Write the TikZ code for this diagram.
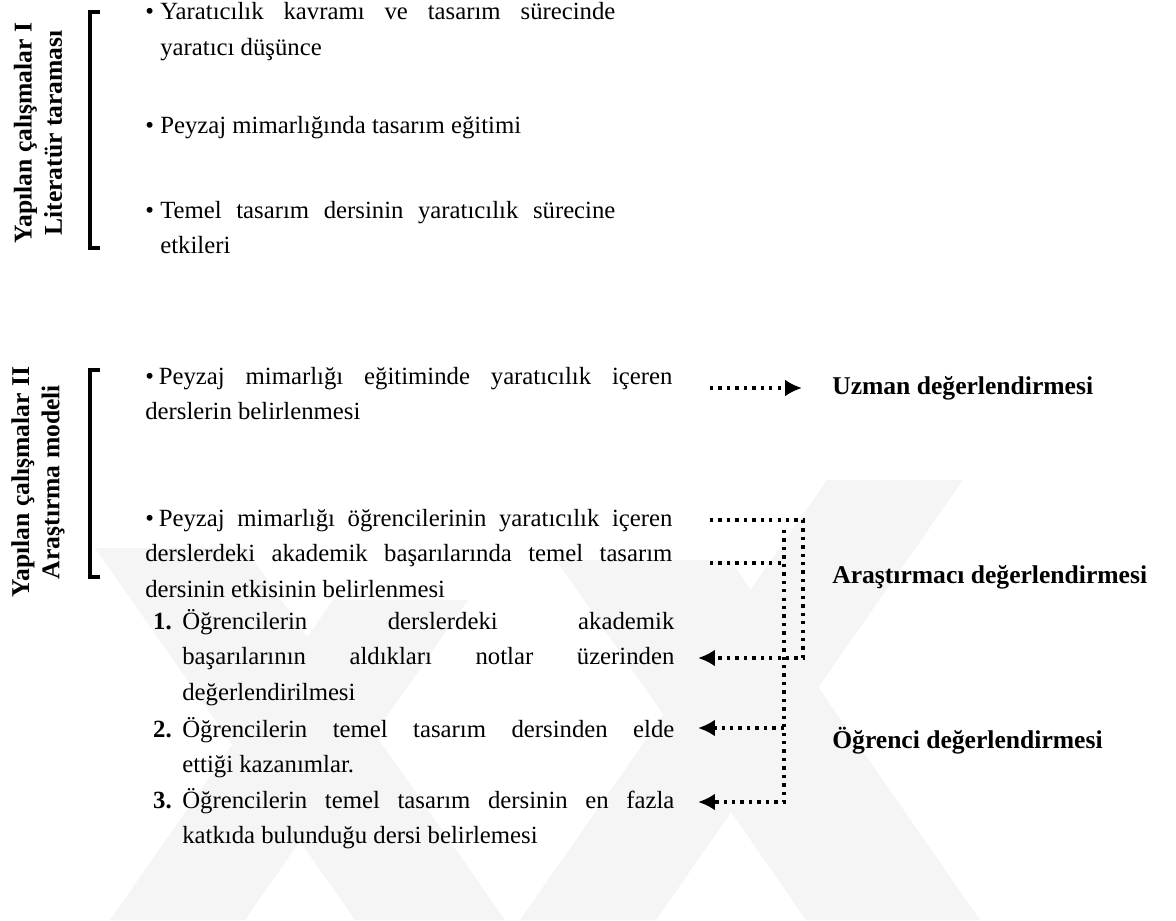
\documentclass[tikz,border=0pt]{standalone}
\usepackage{fontspec}
\setmainfont{Liberation Serif}
\usepackage{tikz}
\usetikzlibrary{positioning}
\usetikzlibrary{arrows.meta}
\hyphenpenalty=10000
\exhyphenpenalty=10000

\begin{document}
\begin{tikzpicture}[x=0.025cm,y=-0.025cm,
  tx/.style={inner sep=0pt,anchor=base west,align=justify,font=\fontsize{17.6pt}{25.4pt}\selectfont},
  hd/.style={inner sep=0pt,rotate=90,align=center,font=\fontsize{18.2pt}{21.5pt}\selectfont\bfseries},
  ev/.style={inner sep=0pt,anchor=base west,font=\fontsize{18.2pt}{25.4pt}\selectfont\bfseries},
  bl/.style={inner sep=0pt,anchor=base west,font=\fontsize{17.6pt}{25.4pt}\selectfont},
  nr/.style={inner sep=0pt,anchor=base east,font=\fontsize{17.6pt}{25.4pt}\selectfont\bfseries},
  br/.style={line width=2.8pt},
  dt/.style={line width=2.4pt,dash pattern=on 2.4pt off 3.6pt},
  ar/.style={dt,-{Latex[length=12pt,width=12pt]}},
  wm/.style={fill=black!4,draw=none}]
\useasboundingbox (0,0) rectangle (1176,920);

% watermark
\fill[wm] (110,920) -- (245,920) -- (468,600) -- (333,600) -- cycle;
\fill[wm] (355,920) -- (505,920) -- (245,548) -- (95,548) -- cycle;
\fill[wm] (520,920) -- (656,920) -- (963,480) -- (827,480) -- cycle;
\fill[wm] (806,920) -- (980,920) -- (730,560) -- (556,560) -- cycle;

% Yapilan calismalar I
\node (h1) [hd] at (38,133) {Yapılan çalışmalar I\\Literatür taraması};
\draw[br] (100,12) -- (90,12) -- (90,248) -- (100,248);
\node (b11) [bl] at (145,20) {\textbullet};
\node (t11) [tx,text width=11.375cm] at (160,20) {Yaratıcılık kavramı ve tasarım sürecinde\linebreak yaratıcı düşünce};
\node (b12) [bl] at (145,134) {\textbullet};
\node (t12) [tx,text width=11.375cm] at (160,134) {Peyzaj mimarlığında tasarım eğitimi};
\node (b13) [bl] at (145,218) {\textbullet};
\node (t13) [tx,text width=11.375cm] at (160,218) {Temel tasarım dersinin yaratıcılık sürecine\linebreak etkileri};

% Yapilan calismalar II
\node (h2) [hd] at (38,482) {Yapılan çalışmalar II\\Araştırma modeli};
\draw[br] (100,370) -- (90,370) -- (90,577) -- (100,577);
\node (t21) [tx,text width=13.175cm] at (145,384) {\textbullet\hspace{0.2em}Peyzaj mimarlığı eğitiminde yaratıcılık içeren\linebreak derslerin belirlenmesi};
\node (t22) [tx,text width=13.175cm] at (145,526) {\textbullet\hspace{0.2em}Peyzaj mimarlığı öğrencilerinin yaratıcılık içeren\linebreak derslerdeki akademik başarılarında temel tasarım\linebreak dersinin etkisinin belirlenmesi};
\node (n1) [nr] at (172,629) {1.};
\node (i1) [tx,text width=12.3cm] at (182,629) {Öğrencilerin derslerdeki akademik\linebreak başarılarının aldıkları notlar üzerinden\linebreak değerlendirilmesi};
\node (n2) [nr] at (172,737) {2.};
\node (i2) [tx,text width=12.3cm] at (182,737) {Öğrencilerin temel tasarım dersinden elde\linebreak ettiği kazanımlar.};
\node (n3) [nr] at (172,808) {3.};
\node (i3) [tx,text width=12.3cm] at (182,808) {Öğrencilerin temel tasarım dersinin en fazla\linebreak katkıda bulunduğu dersi belirlemesi};

% degerlendirmeler
\node (uz) [ev] at (832,394) {Uzman değerlendirmesi};
\node (ar) [ev] at (832,583) {Araştırmacı değerlendirmesi};
\node (og) [ev] at (832,748) {Öğrenci değerlendirmesi};

% baglantilar
\coordinate (u0) at (710,388);
\coordinate (u1) at (802,388);
\coordinate (a0) at (710,520);
\coordinate (a1) at (803,520);
\coordinate (a2) at (803,658);
\coordinate (p1) at (698,658);
\coordinate (c0) at (710,563);
\coordinate (c1) at (784,563);
\coordinate (v0) at (784,530);
\coordinate (v1) at (784,802);
\coordinate (v2) at (784,728);
\coordinate (p2) at (698,728);
\coordinate (p3) at (698,802);
\draw[ar] (u0) -- (u1);
\draw[ar] (a0) -- (a1) -- (a2) -- (p1);
\draw[dt] (c0) -- (c1);
\draw[ar] (v0) -- (v1) -- (p3);
\draw[ar] (v2) -- (p2);
\end{tikzpicture}
\end{document}
